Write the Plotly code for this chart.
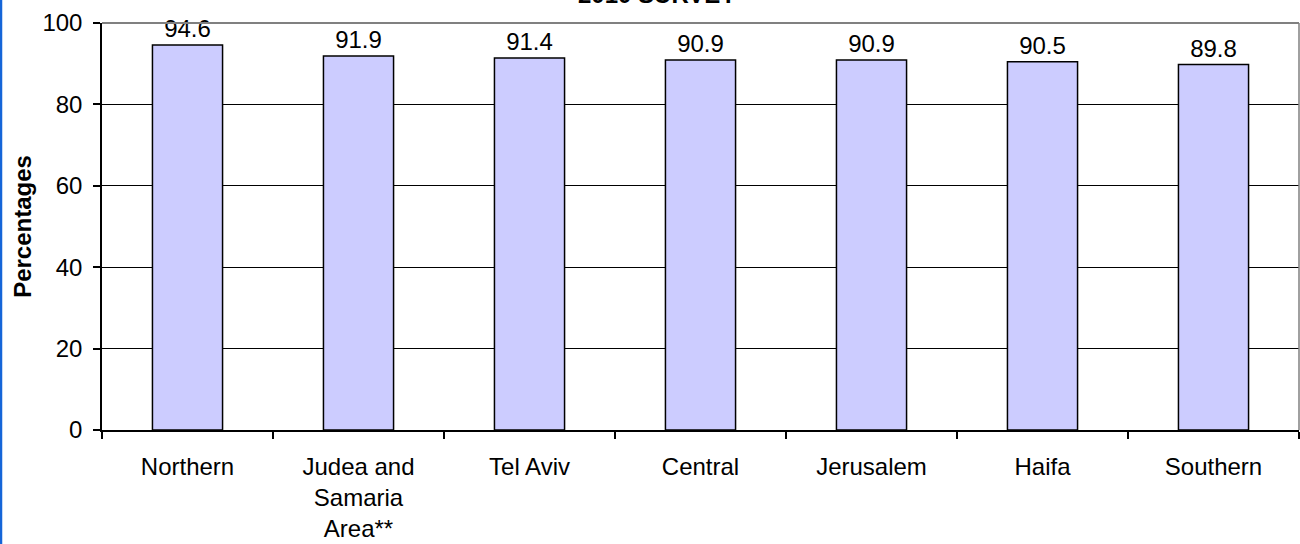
import plotly.graph_objects as go

categories = ["Northern", "Judea and<br>Samaria<br>Area**", "Tel Aviv", "Central", "Jerusalem", "Haifa", "Southern"]
values = [94.6, 91.9, 91.4, 90.9, 90.9, 90.5, 89.8]
value_labels = ["94.6", "91.9", "91.4", "90.9", "90.9", "90.5", "89.8"]
y_ticks = [0, 20, 40, 60, 80, 100]

W, H = 1300, 544
ML, MR, MT, MB = 102, 1, 23, 114
PW = W - ML - MR
PH = H - MT - MB

FONT = "Liberation Sans, Arial, sans-serif"
FS = 24

fig = go.Figure()
fig.add_trace(go.Bar(
    x=categories,
    y=values,
    text=value_labels,
    textposition="outside",
    textfont=dict(size=FS, color="black", family=FONT),
    marker=dict(color="#CCCCFF", line=dict(color="black", width=1.5)),
    width=0.41,
    cliponaxis=False,
))

fig.update_layout(
    width=W, height=H,
    margin=dict(l=ML, r=MR, t=MT, b=MB),
    paper_bgcolor="white",
    plot_bgcolor="white",
    showlegend=False,
    font=dict(family=FONT, size=FS, color="black"),
)
fig.update_xaxes(
    showline=True, linecolor="black", linewidth=1.5,
    ticks="outside", tickson="boundaries", ticklen=7, tickcolor="black", tickwidth=1.5,
    showgrid=False,
    tickfont=dict(size=FS, family=FONT),
    ticklabelstandoff=14,
)
fig.update_yaxes(
    range=[0, 100], tickvals=y_ticks,
    showline=True, linecolor="black", linewidth=1.5,
    ticks="outside", ticklen=7, tickcolor="black", tickwidth=1.5,
    showgrid=True, gridcolor="black", gridwidth=1,
    zeroline=False,
    tickfont=dict(size=FS, family=FONT),
    ticklabelstandoff=6,
    title=dict(text="<b>Percentages</b>", font=dict(size=FS, family=FONT), standoff=4),
)

# plot border (top and right) in grey
fig.add_shape(type="line", xref="paper", yref="paper", x0=0, x1=1, y0=1, y1=1,
              line=dict(color="#808080", width=2))
fig.add_shape(type="line", xref="paper", yref="paper", x0=1, x1=1, y0=0, y1=1,
              line=dict(color="#808080", width=1.5))
# blue chart-frame edge on the left
fig.add_shape(type="line", xref="paper", yref="paper",
              x0=-(ML - 1) / PW, x1=-(ML - 1) / PW, y0=-MB / PH, y1=1 + MT / PH,
              line=dict(color="#1565D8", width=2.5))

# title, cut off at the top of the picture (as in the reference)
fig.add_annotation(
    text="<b>2010 SURVEY</b>", xref="paper", yref="paper",
    x=(657 - ML) / PW, y=1 + 13 / PH, xanchor="center", yanchor="bottom",
    showarrow=False, font=dict(size=FS, family=FONT, color="black"),
)

fig.write_html("out.html", config={"displayModeBar": False},
               post_script="document.body.style.margin='0px';document.body.style.padding='0px';")
